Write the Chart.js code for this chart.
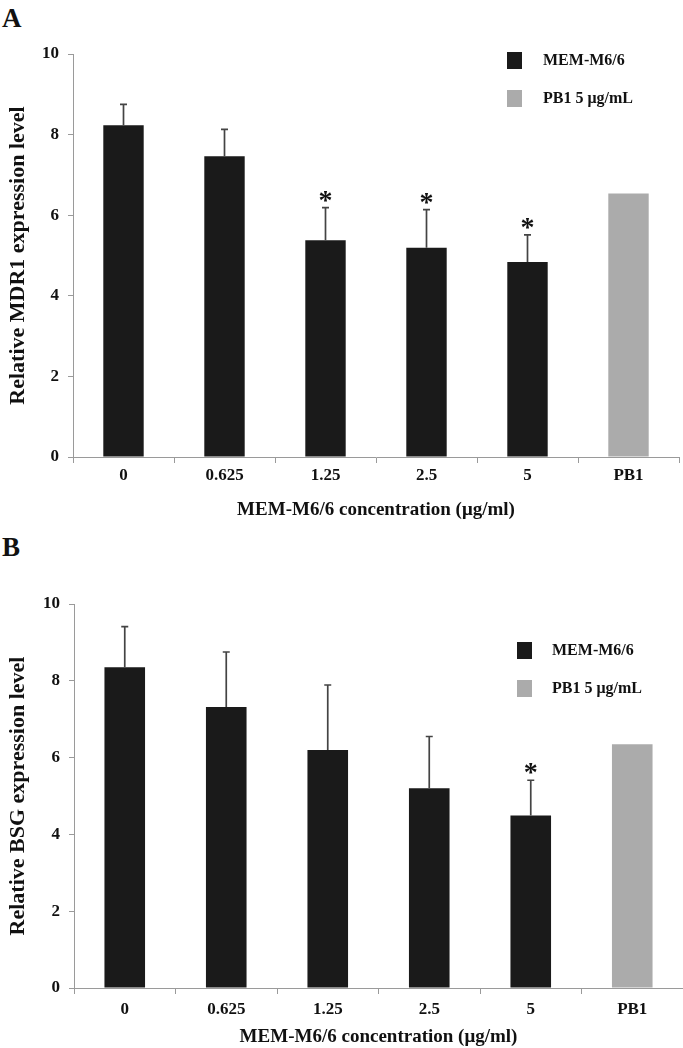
<!DOCTYPE html>
<html>
<head>
<meta charset="utf-8">
<script src="https://cdn.jsdelivr.net/npm/chart.js@4.4.1/dist/chart.umd.min.js"></script>
<style>
  body { margin: 0; background: #fff; width: 683px; height: 1048px; position: relative; overflow: hidden; font-family: "Liberation Serif", "Times New Roman", serif; }
  .letter { position: absolute; left: 2px; font-weight: bold; font-size: 27px; line-height: 1; color: #111; }
  canvas { position: absolute; left: 0; }
</style>
</head>
<body>
<div class="letter" style="top:5px">A</div>
<div class="letter" style="top:534px">B</div>
<canvas id="chartA" width="683" height="530" style="top:0"></canvas>
<canvas id="chartB" width="683" height="518" style="top:530px"></canvas>
<script>
// data
var categories = ['0', '0.625', '1.25', '2.5', '5', 'PB1'];
var seriesNames = ['MEM-M6/6', 'PB1 5 μg/mL'];
var yTicks = [0, 2, 4, 6, 8, 10];
var xTitle = 'MEM-M6/6 concentration (μg/ml)';

var mdr1Mean = [8.23, 7.46, 5.38, 5.19, 4.84, 6.54];
var mdr1Err = [0.52, 0.67, 0.81, 0.95, 0.67, 0];
var mdr1Sig = [false, false, true, true, true, false];

var bsgMean = [8.35, 7.32, 6.20, 5.20, 4.49, 6.35];
var bsgErr = [1.06, 1.43, 1.69, 1.35, 0.92, 0];
var bsgSig = [false, false, false, false, true, false];

var serif = "'Liberation Serif', 'Times New Roman', serif";
var axisColor = '#9a9a9a';
var textColor = '#111';

// upper error bars + significance stars
var errorBars = {
    id: 'errorBars',
    afterDatasetsDraw: function (chart) {
        var ctx = chart.ctx;
        var y = chart.scales.y;
        var err = chart.options.plugins.errorBars.err;
        var sig = chart.options.plugins.errorBars.sig;
        chart.data.datasets.forEach(function (ds, di) {
            var meta = chart.getDatasetMeta(di);
            meta.data.forEach(function (bar, i) {
                var v = ds.data[i];
                if (v === null || v === undefined) return;
                var top = y.getPixelForValue(v + err[i]);
                if (err[i] > 0) {
                    ctx.save();
                    ctx.strokeStyle = '#444';
                    ctx.lineWidth = 1.7;
                    ctx.beginPath();
                    ctx.moveTo(bar.x, bar.y);
                    ctx.lineTo(bar.x, top);
                    ctx.moveTo(bar.x - 3.5, top);
                    ctx.lineTo(bar.x + 3.5, top);
                    ctx.stroke();
                    ctx.restore();
                }
                if (sig[i]) {
                    ctx.save();
                    ctx.fillStyle = '#111';
                    ctx.font = 'bold 28px ' + serif;
                    ctx.textAlign = 'center';
                    ctx.textBaseline = 'alphabetic';
                    ctx.fillText('*', bar.x, top + 1);
                    ctx.restore();
                }
            });
        });
    }
};

// legend drawn as two stacked entries inside the plot
var boxLegend = {
    id: 'boxLegend',
    afterDraw: function (chart) {
        var o = chart.options.plugins.boxLegend;
        var ctx = chart.ctx;
        chart.data.datasets.forEach(function (ds, i) {
            var cy = o.y + i * o.gap;
            ctx.save();
            ctx.fillStyle = ds.backgroundColor;
            ctx.fillRect(o.x, cy - 8, 15, 17);
            ctx.fillStyle = textColor;
            ctx.font = 'bold 16px ' + serif;
            ctx.textAlign = 'left';
            ctx.textBaseline = 'middle';
            ctx.fillText(ds.label, o.textX, cy + 1);
            ctx.restore();
        });
    }
};

function makeChart(id, mean, err, sig, yTitle, box) {
    var memData = mean.map(function (v, i) { return categories[i] === 'PB1' ? null : v; });
    var pbData = mean.map(function (v, i) { return categories[i] === 'PB1' ? v : null; });
    var ctx = document.getElementById(id).getContext('2d');
    return new Chart(ctx, {
        type: 'bar',
        data: {
            labels: categories,
            datasets: [
                { label: seriesNames[0], data: memData, backgroundColor: '#1a1a1a' },
                { label: seriesNames[1], data: pbData, backgroundColor: '#ababab' }
            ]
        },
        options: {
            responsive: false,
            animation: false,
            layout: { padding: { top: box.top, right: box.right, left: 0, bottom: 0 } },
            datasets: { bar: { grouped: false, barPercentage: 0.4, categoryPercentage: 1 } },
            plugins: {
                legend: { display: false },
                tooltip: { enabled: false },
                errorBars: { err: err, sig: sig },
                boxLegend: box.legend
            },
            scales: {
                x: {
                    grid: { display: true, drawOnChartArea: false, offset: true, tickLength: 6, color: axisColor },
                    border: { color: axisColor, width: 1 },
                    ticks: { color: textColor, padding: box.tickPad, font: { family: serif, size: 17, weight: 'bold' } },
                    title: {
                        display: true, text: xTitle, color: textColor,
                        font: { family: serif, size: 19, weight: 'bold' },
                        padding: { top: 0, bottom: box.xTitlePad }
                    },
                    afterFit: function (s) { s.height = box.xh; }
                },
                y: {
                    min: 0, max: 10,
                    afterBuildTicks: function (s) { s.ticks = yTicks.map(function (v) { return { value: v }; }); },
                    grid: { display: true, drawOnChartArea: false, tickLength: 5, color: axisColor },
                    border: { color: axisColor, width: 1 },
                    ticks: { color: textColor, padding: 9, font: { family: serif, size: 17, weight: 'bold' } },
                    title: {
                        display: true, text: yTitle, color: textColor,
                        font: { family: serif, size: 22, weight: 'bold' },
                        padding: { top: 5, bottom: 0 }
                    },
                    afterFit: function (s) { s.width = box.yw; }
                }
            }
        },
        plugins: [errorBars, boxLegend]
    });
}

makeChart('chartA', mdr1Mean, mdr1Err, mdr1Sig, 'Relative MDR1 expression level', {
    top: 54, right: 4, xh: 73, yw: 73, tickPad: 2, xTitlePad: 9,
    legend: { x: 507, textX: 543, y: 60, gap: 38 }
});
makeChart('chartB', bsgMean, bsgErr, bsgSig, 'Relative BSG expression level', {
    top: 74, right: 0, xh: 60, yw: 74, tickPad: 5, xTitlePad: 0,
    legend: { x: 517, textX: 552, y: 120, gap: 38 }
});
</script>
</body>
</html>
